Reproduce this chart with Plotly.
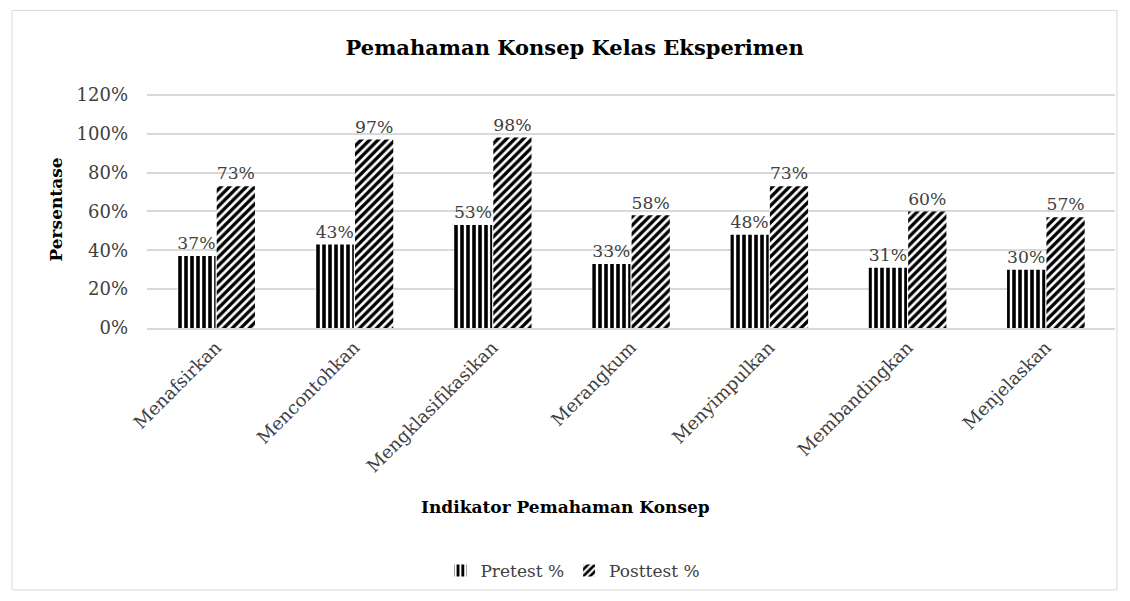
import plotly.graph_objects as go

categories = ["Menafsirkan", "Mencontohkan", "Mengklasifikasikan", "Merangkum",
              "Menyimpulkan", "Membandingkan", "Menjelaskan"]
pretest = [37, 43, 53, 33, 48, 31, 30]
posttest = [73, 97, 98, 58, 73, 60, 57]
y_ticks = [0, 20, 40, 60, 80, 100, 120]
y_tick_labels = [f"{v}%" for v in y_ticks]

FONT = "DejaVu Serif"
TXT = "#404040"

fig = go.Figure()
fig.add_trace(go.Bar(
    x=categories, y=pretest, name="Pretest %",
    text=[f"{v}%" for v in pretest], textposition="outside",
    textfont=dict(family=FONT, size=18, color=TXT),
    cliponaxis=False,
    marker=dict(color="white", line=dict(width=0),
                pattern=dict(shape="|", fgcolor="black", fgopacity=1, bgcolor="white",
                             size=6, solidity=0.6)),
))
fig.add_trace(go.Bar(
    x=categories, y=posttest, name="Posttest %",
    text=[f"{v}%" for v in posttest], textposition="outside",
    textfont=dict(family=FONT, size=18, color=TXT),
    cliponaxis=False,
    marker=dict(color="white", line=dict(width=0),
                pattern=dict(shape="/", fgcolor="black", fgopacity=1, bgcolor="white",
                             size=6, solidity=0.55)),
))

fig.update_layout(
    width=1122, height=593,
    paper_bgcolor="white", plot_bgcolor="white",
    margin=dict(l=139, r=15, t=83, b=262),
    barmode="group", bargap=0.43, bargroupgap=0.03,
    font=dict(family=FONT, color=TXT),
    title=dict(text="<b>Pemahaman Konsep Kelas Eksperimen</b>", x=0.505, xanchor="center",
               xref="container", yref="container",
               y=0.9325, yanchor="middle", font=dict(family=FONT, size=21, color="black")),
    showlegend=True,
    legend=dict(orientation="h", x=0.44, xanchor="center", y=-1.025, yanchor="middle",
                font=dict(family=FONT, size=17, color=TXT), itemwidth=30),
    shapes=[dict(type="rect", xref="paper", yref="paper", x0=-0.1395, x1=1.002,
                 y0=-1.105, y1=1.34, line=dict(color="#d9d9d9", width=1))],
    annotations=[
        dict(text="<b>Indikator Pemahaman Konsep</b>", xref="paper", yref="paper",
             x=0.432, y=-0.756, xanchor="center", yanchor="middle", showarrow=False,
             font=dict(family=FONT, size=17, color="black")),
        dict(text="<b>Persentase</b>", xref="paper", yref="paper", textangle=-90,
             x=-0.095, y=0.5, xanchor="center", yanchor="middle", showarrow=False,
             font=dict(family=FONT, size=17, color="black")),
    ],
)
fig.update_yaxes(
    range=[0, 122], tickvals=y_ticks, ticktext=y_tick_labels,
    showgrid=True, gridcolor="#d9d9d9", gridwidth=1.5, zeroline=False,
    showline=False, ticks="", ticklen=0, ticklabelstandoff=18,
    tickfont=dict(family=FONT, size=18, color=TXT),
)
fig.update_xaxes(
    tickangle=-45, showline=True, linecolor="#d9d9d9", linewidth=1.5,
    tickfont=dict(family=FONT, size=18, color=TXT),
)

fig.write_html("out.html")
